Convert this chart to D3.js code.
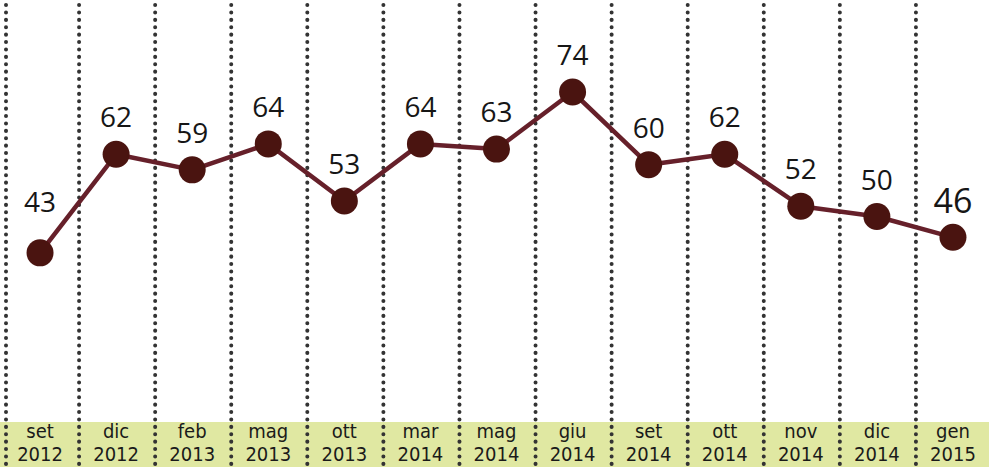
<!DOCTYPE html>
<html>
<head>
<meta charset="utf-8">
<script src="https://cdn.jsdelivr.net/npm/d3@7"></script>
<style>
  html, body { margin: 0; padding: 0; background: #fff; }
  svg { display: block; }
</style>
</head>
<body>
<svg id="chart" width="989" height="467"></svg>
<script>
// Periodi (mese / anno) e valori della serie
const months = ["set", "dic", "feb", "mag", "ott", "mar", "mag", "giu", "set", "ott", "nov", "dic", "gen"];
const years  = ["2012", "2012", "2013", "2013", "2013", "2014", "2014", "2014", "2014", "2014", "2014", "2014", "2015"];
const values = [43, 62, 59, 64, 53, 64, 63, 74, 60, 62, 52, 50, 46];

const W = 989, H = 467;
const svg = d3.select("#chart");

const keys = months.map((m, i) => i);
const x = d3.scaleBand().domain(keys).range([2, 991]).padding(0);
const cx = i => x(i) + x.bandwidth() / 2;
const y = d3.scaleLinear().domain([0, 74]).range([476, 92]);

// Fascia inferiore con le etichette dei periodi
const bandTop = 422;
svg.append("rect")
  .attr("x", 0).attr("y", bandTop)
  .attr("width", W).attr("height", H - bandTop)
  .attr("fill", "#e0e8a2");

// Separatori verticali punteggiati
const sepG = svg.append("g");
keys.forEach(i => {
  const sx = Math.max(6, x(i) + 1);
  sepG.append("line")
    .attr("x1", sx).attr("x2", sx)
    .attr("y1", 5).attr("y2", H)
    .attr("stroke", "#333333")
    .attr("stroke-width", 4)
    .attr("stroke-linecap", "round")
    .attr("stroke-dasharray", "0.1 7.3");
});

// Etichette dei periodi
const labG = svg.append("g")
  .attr("font-family", "'Liberation Sans Narrow', 'DejaVu Sans Condensed', 'Open Sans', sans-serif")
  .attr("font-size", 20)
  .attr("fill", "#1a1a1a")
  .attr("text-anchor", "middle");
keys.forEach(i => {
  labG.append("text").attr("x", cx(i)).attr("y", 438).text(months[i]);
  labG.append("text").attr("x", cx(i)).attr("y", 461).text(years[i]);
});

// Linea
const line = d3.line().x(i => cx(i)).y(i => y(values[i]));
svg.append("path")
  .datum(keys)
  .attr("d", line)
  .attr("fill", "none")
  .attr("stroke", "#66202a")
  .attr("stroke-width", 4.5)
  .attr("stroke-linejoin", "round");

// Punti
svg.append("g").selectAll("circle")
  .data(keys)
  .join("circle")
  .attr("cx", i => cx(i))
  .attr("cy", i => y(values[i]))
  .attr("r", 13.5)
  .attr("fill", "#4a1410");

// Valori sopra i punti (il primo sollevato per non toccare la linea, l'ultimo più grande)
const last = keys.length - 1;
const fs = i => i === last ? 34 : 28;
svg.append("g")
  .attr("font-family", "'Open Sans', 'DejaVu Sans', sans-serif")
  .attr("fill", "#161616")
  .attr("text-anchor", "middle")
  .selectAll("text")
  .data(keys)
  .join("text")
  .attr("x", i => cx(i))
  .attr("y", i => y(values[i]) - (i === 0 ? 51 : 37) + fs(i) * 0.36)
  .attr("font-size", fs)
  .text(i => values[i]);
</script>
</body>
</html>
